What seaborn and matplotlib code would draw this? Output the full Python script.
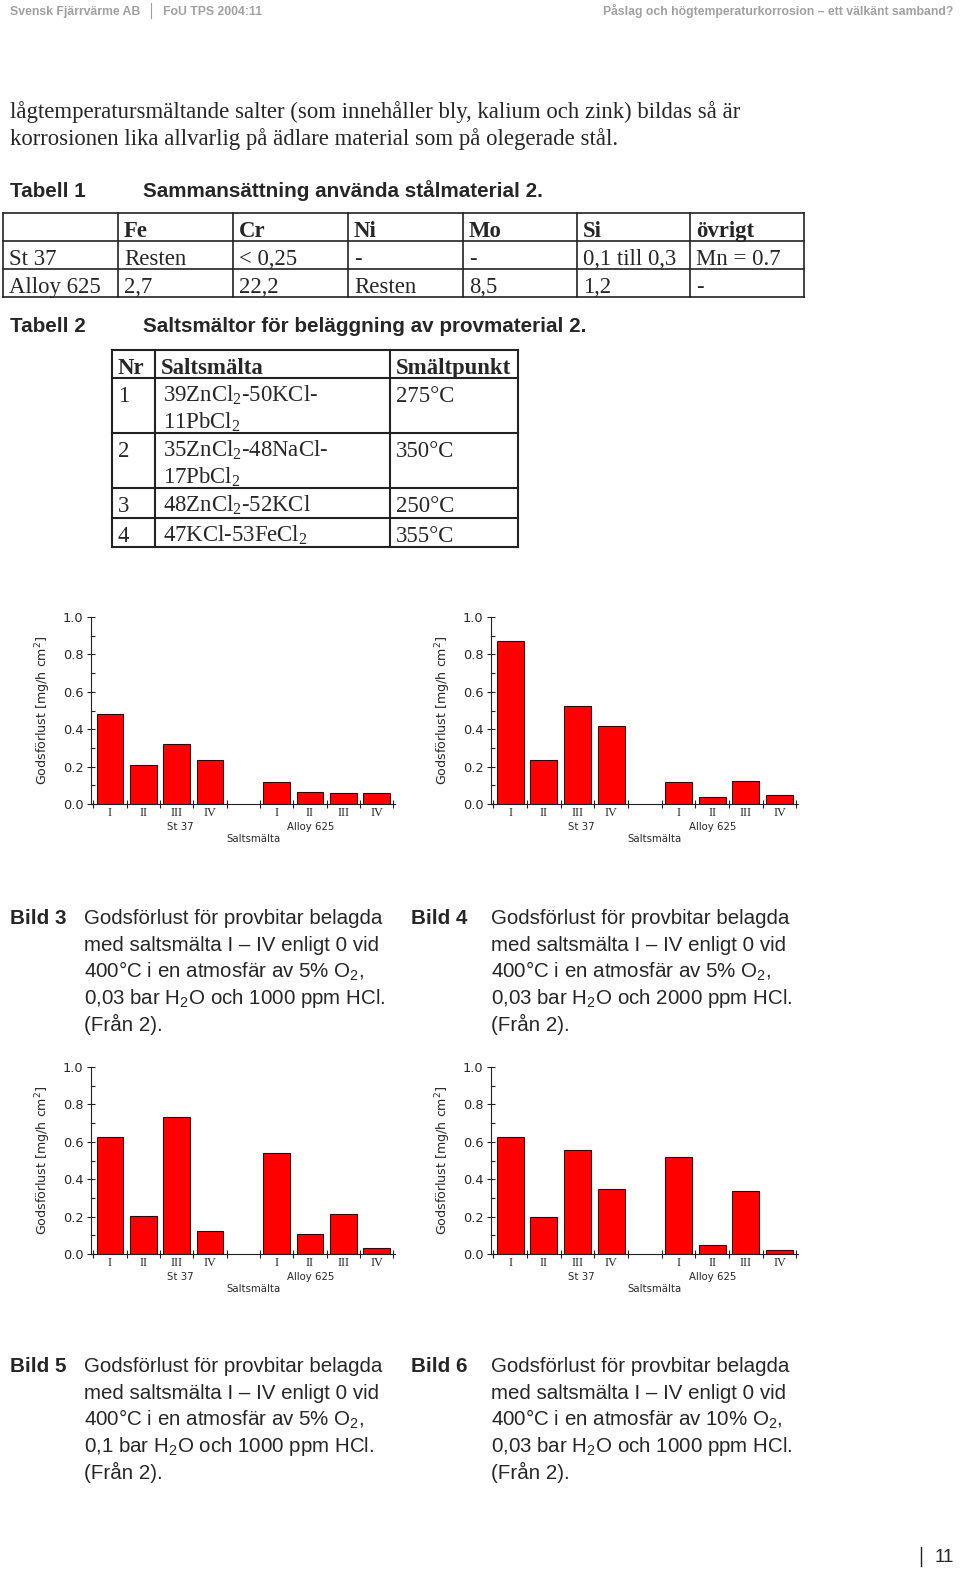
import numpy as np
import pandas as pd
import matplotlib
matplotlib.use("Agg")
import matplotlib.pyplot as plt
from matplotlib.ticker import MultipleLocator
import seaborn as sns

sns.set_theme(style="white")
plt.rcParams['font.family'] = ['DejaVu Sans']
plt.rcParams['mathtext.default'] = 'regular'

SERIF = ['Liberation Serif', 'DejaVu Serif']
SANS = ['Liberation Sans', 'DejaVu Sans']
NARROW = ['Liberation Sans Narrow', 'Liberation Sans', 'DejaVu Sans']

# ---------------- data ----------------
salts = ["I", "II", "III", "IV"]
materials = ["St 37", "Alloy 625"]

bild3_st37 = [0.481, 0.210, 0.319, 0.234]
bild3_alloy = [0.118, 0.066, 0.061, 0.057]
bild4_st37 = [0.870, 0.235, 0.522, 0.417]
bild4_alloy = [0.116, 0.039, 0.125, 0.050]
bild5_st37 = [0.624, 0.203, 0.733, 0.123]
bild5_alloy = [0.540, 0.107, 0.212, 0.030]
bild6_st37 = [0.627, 0.198, 0.554, 0.346]
bild6_alloy = [0.519, 0.046, 0.335, 0.021]

y_ticks = [0.0, 0.2, 0.4, 0.6, 0.8, 1.0]

tab1_header = ["", "Fe", "Cr", "Ni", "Mo", "Si", "övrigt"]
tab1_rows = [
    ["St 37", "Resten", "< 0,25", "-", "-", "0,1 till 0,3", "Mn = 0.7"],
    ["Alloy 625", "2,7", "22,2", "Resten", "8,5", "1,2", "-"],
]
tab2_header = ["Nr", "Saltsmälta", "Smältpunkt"]
tab2_nr = ["1", "2", "3", "4"]
tab2_salt = [
    ["39ZnCl$_2$-50KCl-", "11PbCl$_2$"],
    ["35ZnCl$_2$-48NaCl-", "17PbCl$_2$"],
    ["48ZnCl$_2$-52KCl"],
    ["47KCl-53FeCl$_2$"],
]
tab2_temp = ["275°C", "350°C", "250°C", "355°C"]

captions = {
    "Bild 3": ["Godsförlust för provbitar belagda", "med saltsmälta I – IV enligt 0 vid",
               "400°C i en atmosfär av 5% O$_2$,", "0,03 bar H$_2$O och 1000 ppm HCl.", "(Från 2)."],
    "Bild 4": ["Godsförlust för provbitar belagda", "med saltsmälta I – IV enligt 0 vid",
               "400°C i en atmosfär av 5% O$_2$,", "0,03 bar H$_2$O och 2000 ppm HCl.", "(Från 2)."],
    "Bild 5": ["Godsförlust för provbitar belagda", "med saltsmälta I – IV enligt 0 vid",
               "400°C i en atmosfär av 5% O$_2$,", "0,1 bar H$_2$O och 1000 ppm HCl.", "(Från 2)."],
    "Bild 6": ["Godsförlust för provbitar belagda", "med saltsmälta I – IV enligt 0 vid",
               "400°C i en atmosfär av 10% O$_2$,", "0,03 bar H$_2$O och 1000 ppm HCl.", "(Från 2)."],
}

W, H = 960, 1575
BODY = 16.4
HEAD = 14.9
fig = plt.figure(figsize=(W / 100, H / 100), dpi=100)
fig.patch.set_facecolor('white')

# page layer in pixel coordinates
page = fig.add_axes([0, 0, 1, 1], zorder=0)
page.set_xlim(0, W)
page.set_ylim(H, 0)
page.set_axis_off()


def txt(x, y, s, family=SERIF, size=BODY, **kw):
    page.text(x, y, s, family=family, fontsize=size, va='baseline', **kw)


def hline(x0, x1, y, lw=1.2, color='#222222'):
    page.plot([x0, x1], [y, y], color=color, lw=lw, solid_capstyle='projecting')


def vline(x, y0, y1, lw=1.2, color='#222222'):
    page.plot([x, x], [y0, y1], color=color, lw=lw, solid_capstyle='projecting')


# header
gray = '#a0a0a0'
txt(10, 15, "Svensk Fjärrvärme AB", family=NARROW, size=8.8, color=gray, weight='bold')
vline(151, 3, 18, lw=0.8, color=gray)
txt(163, 15, "FoU TPS 2004:11", family=NARROW, size=8.8, color=gray, weight='bold')
txt(953, 15, "Påslag och högtemperaturkorrosion – ett välkänt samband?", family=NARROW,
    size=8.8, color=gray, weight='bold', ha='right')

# body text
txt(10, 118, "lågtemperatursmältande salter (som innehåller bly, kalium och zink) bildas så är")
txt(10, 145, "korrosionen lika allvarlig på ädlare material som på olegerade stål.")

# Tabell 1
txt(10, 197, "Tabell 1", family=SANS, size=HEAD, weight='bold')
txt(143, 197, "Sammansättning använda stålmaterial 2.", family=SANS, size=HEAD, weight='bold')
t1_x = [3, 118, 233, 348, 463, 577, 690, 804]
t1_y = [213, 241, 269, 297]
for y in t1_y:
    hline(t1_x[0], t1_x[-1], y)
for x in t1_x:
    vline(x, t1_y[0], t1_y[-1])
for j, s in enumerate(tab1_header):
    txt(t1_x[j] + 6, 237, s, weight='bold')
for i, row in enumerate(tab1_rows):
    for j, s in enumerate(row):
        txt(t1_x[j] + 6, 265 + 28 * i, s)

# Tabell 2
txt(10, 332, "Tabell 2", family=SANS, size=HEAD, weight='bold')
txt(143, 332, "Saltsmältor för beläggning av provmaterial 2.", family=SANS, size=HEAD, weight='bold')
t2_x = [112, 155, 390, 518]
t2_y = [350, 378, 433, 488, 518, 547]
for y in t2_y:
    hline(t2_x[0], t2_x[-1], y, lw=1.5)
for x in t2_x:
    vline(x, t2_y[0], t2_y[-1], lw=1.5)
for j, s in enumerate(tab2_header):
    txt(t2_x[j] + 6, 374, s, weight='bold')
for i in range(4):
    base = t2_y[i + 1] + 24
    txt(t2_x[0] + 6, base, tab2_nr[i])
    for k, s in enumerate(tab2_salt[i]):
        txt(t2_x[1] + 8, base + 27 * k, s)
    txt(t2_x[2] + 6, base, tab2_temp[i])


# charts
def draw_chart(rect, st37, alloy, grp_x=(2.12, 6.03), xlab_x=4.3):
    ax = fig.add_axes(rect, zorder=1)
    ax.patch.set_alpha(0)
    df = pd.DataFrame({
        "pos": [m * 5 + i for m in range(len(materials)) for i in range(len(salts))],
        "loss": list(st37) + list(alloy),
    })
    sns.barplot(data=df, x="pos", y="loss", native_scale=True, width=0.8,
                color="#ff0000", saturation=1, edgecolor="#3a0000", linewidth=0.8,
                errorbar=None, ax=ax)
    ax.set_xlim(-0.57, 8.55)
    ax.set_ylim(0, 1.0)
    for side in ['top', 'right']:
        ax.spines[side].set_visible(False)
    for side in ['left', 'bottom']:
        ax.spines[side].set_color('#222222')
        ax.spines[side].set_linewidth(0.8)

    ax.set_xticks(np.arange(-0.5, 9, 1))
    ax.set_xticks(df["pos"], minor=True)
    ax.set_xticklabels(salts * len(materials), minor=True, family=SERIF, fontsize=8.8)
    ax.tick_params(axis='x', which='major', bottom=True, labelbottom=False,
                   direction='inout', length=6, width=0.8, color='#222222')
    ax.tick_params(axis='x', which='minor', bottom=True, length=0, pad=2.5)

    ax.set_yticks(y_ticks)
    ax.set_yticklabels([f"{v:.1f}" for v in y_ticks], fontsize=9.3)
    ax.yaxis.set_minor_locator(MultipleLocator(0.1))
    ax.tick_params(axis='y', which='major', left=True, direction='inout', length=6,
                   width=0.8, color='#222222', pad=2.5)
    ax.tick_params(axis='y', which='minor', left=True, direction='in', length=3,
                   width=0.8, color='#222222')

    ax.set_xlabel("")
    ax.set_ylabel("Godsförlust [mg/h cm$^2$]", fontsize=9.1, labelpad=7)
    for m, name in enumerate(materials):
        ax.annotate(name, xy=(grp_x[m], 0), xycoords=('data', 'axes fraction'),
                    xytext=(0, -23), textcoords='offset pixels', ha='center', va='center',
                    fontsize=7.3)
    ax.annotate("Saltsmälta", xy=(xlab_x, 0), xycoords=('data', 'axes fraction'),
                xytext=(0, -35), textcoords='offset pixels', ha='center', va='center',
                fontsize=7.3)
    return ax


def rect(x0, x1, y_top, y_bot):
    return [x0 / W, 1 - y_bot / H, (x1 - x0) / W, (y_bot - y_top) / H]


draw_chart(rect(91, 395, 617, 804), bild3_st37, bild3_alloy)
draw_chart(rect(491, 798, 617, 804), bild4_st37, bild4_alloy)
draw_chart(rect(91, 395, 1067, 1254), bild5_st37, bild5_alloy)
draw_chart(rect(491, 798, 1067, 1254), bild6_st37, bild6_alloy)

# captions
cap_pos = {"Bild 3": (10, 84, 924), "Bild 4": (411, 491, 924),
           "Bild 5": (10, 84, 1372), "Bild 6": (411, 491, 1372)}
for key, (xb, xt, yb) in cap_pos.items():
    txt(xb, yb, key, family=SANS, size=HEAD, weight='bold')
    for k, line in enumerate(captions[key]):
        txt(xt, yb + 26.8 * k, line, family=SANS, size=14.8)

# footer
vline(921, 1547, 1566, lw=1.0, color='#222222')
txt(935, 1562, "11", family=SANS, size=13.5)

fig.savefig("out.png", dpi=100, facecolor='white')
